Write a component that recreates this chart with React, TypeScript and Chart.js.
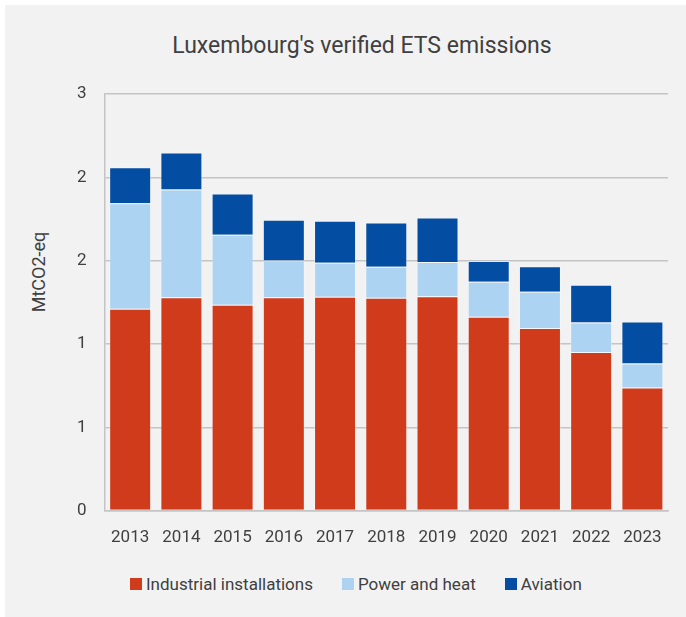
import React, { useEffect, useRef } from "react";
import { Chart, registerables } from "chart.js";

Chart.register(...registerables);

const categories = ["2013", "2014", "2015", "2016", "2017", "2018", "2019", "2020", "2021", "2022", "2023"];
const industrial = [1.455, 1.538, 1.483, 1.538, 1.541, 1.534, 1.545, 1.397, 1.315, 1.142, 0.887];
const powerHeat = [0.759, 0.775, 0.505, 0.263, 0.245, 0.223, 0.246, 0.252, 0.262, 0.214, 0.173];
const aviation = [0.259, 0.267, 0.296, 0.295, 0.303, 0.318, 0.320, 0.149, 0.183, 0.272, 0.303];
const yMin = 0;
const yMax = 3;
const yStep = 0.6;

const seriesNames = ["Industrial installations", "Power and heat", "Aviation"];
const seriesColors = ["#D03B1C", "#ADD3F3", "#034EA2"];

const FONT = "Roboto, 'Noto Sans', sans-serif";
const TEXT = "#404040";

export default function App() {
  const ref = useRef<HTMLCanvasElement | null>(null);

  useEffect(() => {
    if (!ref.current) return;
    const chart = new Chart(ref.current, {
      type: "bar",
      data: {
        labels: categories,
        datasets: [industrial, powerHeat, aviation].map((d, i) => ({
          label: seriesNames[i],
          data: d,
          backgroundColor: seriesColors[i],
          borderColor: "rgba(255,255,255,0.3)",
          borderWidth: 1,
          barPercentage: 0.82,
          categoryPercentage: 1,
        })),
      },
      options: {
        responsive: false,
        animation: false,
        devicePixelRatio: 1,
        layout: { padding: { left: 54, right: 13, top: 0, bottom: 1 } },
        plugins: {
          legend: { display: false },
          title: { display: false },
          tooltip: { enabled: false },
        },
        scales: {
          x: {
            stacked: true,
            grid: { display: false, drawTicks: false },
            border: { display: true, color: "#c4c4c4", width: 1.5 },
            ticks: { color: TEXT, font: { family: FONT, size: 17 }, padding: 17 },
          },
          y: {
            stacked: true,
            min: yMin,
            max: yMax,
            grid: { color: "#c4c4c4", lineWidth: 1.5, drawTicks: false },
            border: { display: true, color: "#c4c4c4", width: 1.5 },
            ticks: {
              stepSize: yStep,
              color: TEXT,
              font: { family: FONT, size: 17 },
              padding: 18,
              callback: (v: any) => String(Math.round(Number(v))),
            },
          },
        },
      },
    });
    return () => chart.destroy();
  }, []);

  return (
    <div style={{ position: "absolute", left: 0, top: 0, width: 686, height: 617, background: "#ffffff", overflow: "hidden" }}>
      <div style={{ position: "absolute", left: 5, top: 5, width: 681, height: 612, background: "#f2f2f2" }} />
      <div
        style={{
          position: "absolute",
          left: 0,
          top: 32,
          width: 724,
          textAlign: "center",
          fontFamily: FONT,
          fontSize: 23,
          color: TEXT,
          lineHeight: "28px",
        }}
      >
        Luxembourg's verified ETS emissions
      </div>
      <div
        style={{
          position: "absolute",
          left: 38,
          top: 272,
          transform: "translate(-50%, -50%) rotate(-90deg)",
          fontFamily: FONT,
          fontSize: 18,
          color: TEXT,
          whiteSpace: "nowrap",
        }}
      >
        MtCO2-eq
      </div>
      <canvas ref={ref} width={676} height={500} style={{ position: "absolute", left: 5, top: 66 }} />
      <div
        style={{
          position: "absolute",
          left: 130,
          top: 572,
          display: "flex",
          alignItems: "center",
          fontFamily: FONT,
          fontSize: 17,
          color: TEXT,
          lineHeight: "24px",
        }}
      >
        {seriesNames.map((n, i) => (
          <div key={n} style={{ display: "flex", alignItems: "center", marginRight: 29 }}>
            <span style={{ display: "inline-block", width: 12, height: 12, background: seriesColors[i], marginRight: 4 }} />
            <span>{n}</span>
          </div>
        ))}
      </div>
    </div>
  );
}
